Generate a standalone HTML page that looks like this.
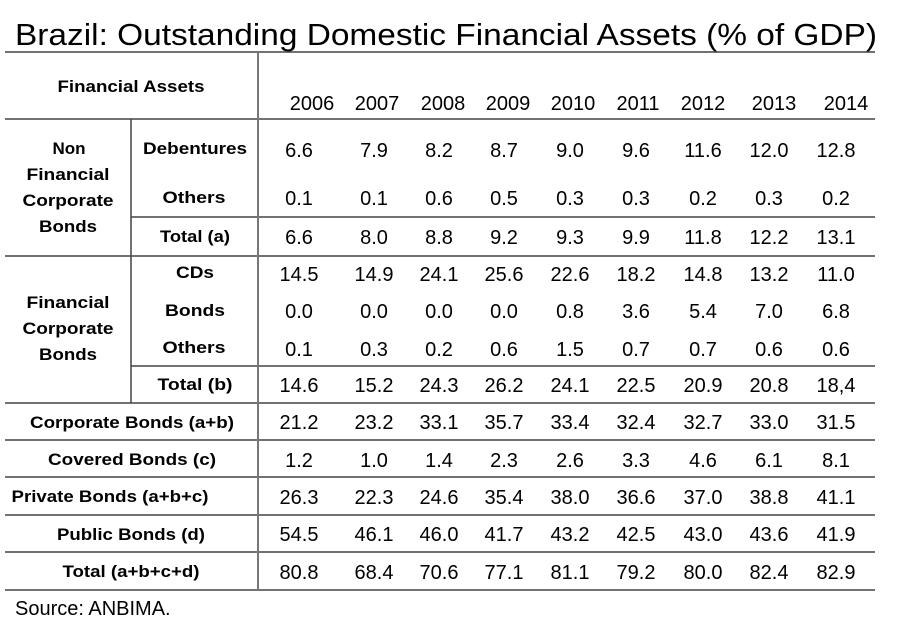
<!DOCTYPE html>
<html><head><meta charset="utf-8"><style>
html,body{margin:0;padding:0;background:#fff;}
svg{display:block;}
.n{font-family:"Liberation Sans",sans-serif;font-size:20px;fill:#000;text-anchor:middle;}
.l{font-family:"Liberation Sans",sans-serif;font-size:17px;font-weight:bold;fill:#000;text-anchor:middle;}
</style></head><body>
<svg width="900" height="637" viewBox="0 0 900 637" xmlns="http://www.w3.org/2000/svg">
<text x="15" y="45" font-family="Liberation Sans, sans-serif" font-size="31" textLength="862" lengthAdjust="spacingAndGlyphs">Brazil: Outstanding Domestic Financial Assets (% of GDP)</text>
<g stroke="#444" stroke-width="1.5">
<line x1="5" y1="52" x2="875" y2="52"/>
<line x1="5" y1="119" x2="875" y2="119"/>
<line x1="131" y1="217" x2="875" y2="217"/>
<line x1="5" y1="256" x2="875" y2="256"/>
<line x1="131" y1="366" x2="875" y2="366"/>
<line x1="5" y1="403" x2="875" y2="403"/>
<line x1="5" y1="440" x2="875" y2="440"/>
<line x1="5" y1="477" x2="875" y2="477"/>
<line x1="5" y1="515" x2="875" y2="515"/>
<line x1="5" y1="552" x2="875" y2="552"/>
<line x1="5" y1="590" x2="875" y2="590"/>
<line x1="131" y1="119" x2="131" y2="403"/>
</g>
<line x1="258" y1="52" x2="258" y2="590" stroke="#777" stroke-width="2"/>
<text class="l" x="131" y="92" textLength="147" lengthAdjust="spacingAndGlyphs">Financial Assets</text>
<text class="l" x="69" y="154">Non</text>
<text class="l" x="68" y="180" textLength="83" lengthAdjust="spacingAndGlyphs">Financial</text>
<text class="l" x="68" y="206" textLength="91" lengthAdjust="spacingAndGlyphs">Corporate</text>
<text class="l" x="68" y="232" textLength="58" lengthAdjust="spacingAndGlyphs">Bonds</text>
<text class="l" x="68" y="308" textLength="83" lengthAdjust="spacingAndGlyphs">Financial</text>
<text class="l" x="68" y="334" textLength="91" lengthAdjust="spacingAndGlyphs">Corporate</text>
<text class="l" x="68" y="360" textLength="58" lengthAdjust="spacingAndGlyphs">Bonds</text>
<text class="l" x="195" y="154" textLength="104" lengthAdjust="spacingAndGlyphs">Debentures</text>
<text class="l" x="194" y="203" textLength="63" lengthAdjust="spacingAndGlyphs">Others</text>
<text class="l" x="195" y="242" textLength="70" lengthAdjust="spacingAndGlyphs">Total (a)</text>
<text class="l" x="195" y="278" textLength="38" lengthAdjust="spacingAndGlyphs">CDs</text>
<text class="l" x="195" y="316" textLength="60" lengthAdjust="spacingAndGlyphs">Bonds</text>
<text class="l" x="194" y="353" textLength="63" lengthAdjust="spacingAndGlyphs">Others</text>
<text class="l" x="195" y="390" textLength="75" lengthAdjust="spacingAndGlyphs">Total (b)</text>
<text class="l" x="132" y="428" textLength="204" lengthAdjust="spacingAndGlyphs">Corporate Bonds (a+b)</text>
<text class="l" x="132" y="465" textLength="168" lengthAdjust="spacingAndGlyphs">Covered Bonds (c)</text>
<text class="l" x="110" y="502" textLength="197" lengthAdjust="spacingAndGlyphs">Private Bonds (a+b+c)</text>
<text class="l" x="131" y="540" textLength="148" lengthAdjust="spacingAndGlyphs">Public Bonds (d)</text>
<text class="l" x="131" y="577" textLength="137" lengthAdjust="spacingAndGlyphs">Total (a+b+c+d)</text>
<g class="n">
<text x="312" y="110">2006</text><text x="377" y="110">2007</text><text x="443" y="110">2008</text><text x="508" y="110">2009</text><text x="573" y="110">2010</text><text x="638" y="110">2011</text><text x="703" y="110">2012</text><text x="774" y="110">2013</text><text x="846" y="110">2014</text>
</g>
<g class="n" id="rows"></g>
<text x="15" y="615" font-family="Liberation Sans, sans-serif" font-size="20">Source: ANBIMA.</text>
<g class="n">
<g transform="translate(0,157)"><text x="299">6.6</text><text x="374">7.9</text><text x="439">8.2</text><text x="504">8.7</text><text x="570">9.0</text><text x="636">9.6</text><text x="703">11.6</text><text x="769">12.0</text><text x="836">12.8</text></g>
<g transform="translate(0,205)"><text x="299">0.1</text><text x="374">0.1</text><text x="439">0.6</text><text x="504">0.5</text><text x="570">0.3</text><text x="636">0.3</text><text x="703">0.2</text><text x="769">0.3</text><text x="836">0.2</text></g>
<g transform="translate(0,244)"><text x="299">6.6</text><text x="374">8.0</text><text x="439">8.8</text><text x="504">9.2</text><text x="570">9.3</text><text x="636">9.9</text><text x="703">11.8</text><text x="769">12.2</text><text x="836">13.1</text></g>
<g transform="translate(0,281)"><text x="299">14.5</text><text x="374">14.9</text><text x="439">24.1</text><text x="504">25.6</text><text x="570">22.6</text><text x="636">18.2</text><text x="703">14.8</text><text x="769">13.2</text><text x="836">11.0</text></g>
<g transform="translate(0,318)"><text x="299">0.0</text><text x="374">0.0</text><text x="439">0.0</text><text x="504">0.0</text><text x="570">0.8</text><text x="636">3.6</text><text x="703">5.4</text><text x="769">7.0</text><text x="836">6.8</text></g>
<g transform="translate(0,356)"><text x="299">0.1</text><text x="374">0.3</text><text x="439">0.2</text><text x="504">0.6</text><text x="570">1.5</text><text x="636">0.7</text><text x="703">0.7</text><text x="769">0.6</text><text x="836">0.6</text></g>
<g transform="translate(0,392)"><text x="299">14.6</text><text x="374">15.2</text><text x="439">24.3</text><text x="504">26.2</text><text x="570">24.1</text><text x="636">22.5</text><text x="703">20.9</text><text x="769">20.8</text><text x="836">18,4</text></g>
<g transform="translate(0,429)"><text x="299">21.2</text><text x="374">23.2</text><text x="439">33.1</text><text x="504">35.7</text><text x="570">33.4</text><text x="636">32.4</text><text x="703">32.7</text><text x="769">33.0</text><text x="836">31.5</text></g>
<g transform="translate(0,467)"><text x="299">1.2</text><text x="374">1.0</text><text x="439">1.4</text><text x="504">2.3</text><text x="570">2.6</text><text x="636">3.3</text><text x="703">4.6</text><text x="769">6.1</text><text x="836">8.1</text></g>
<g transform="translate(0,504)"><text x="299">26.3</text><text x="374">22.3</text><text x="439">24.6</text><text x="504">35.4</text><text x="570">38.0</text><text x="636">36.6</text><text x="703">37.0</text><text x="769">38.8</text><text x="836">41.1</text></g>
<g transform="translate(0,541)"><text x="299">54.5</text><text x="374">46.1</text><text x="439">46.0</text><text x="504">41.7</text><text x="570">43.2</text><text x="636">42.5</text><text x="703">43.0</text><text x="769">43.6</text><text x="836">41.9</text></g>
<g transform="translate(0,579)"><text x="299">80.8</text><text x="374">68.4</text><text x="439">70.6</text><text x="504">77.1</text><text x="570">81.1</text><text x="636">79.2</text><text x="703">80.0</text><text x="769">82.4</text><text x="836">82.9</text></g>
</g>
</svg>
</body></html>
